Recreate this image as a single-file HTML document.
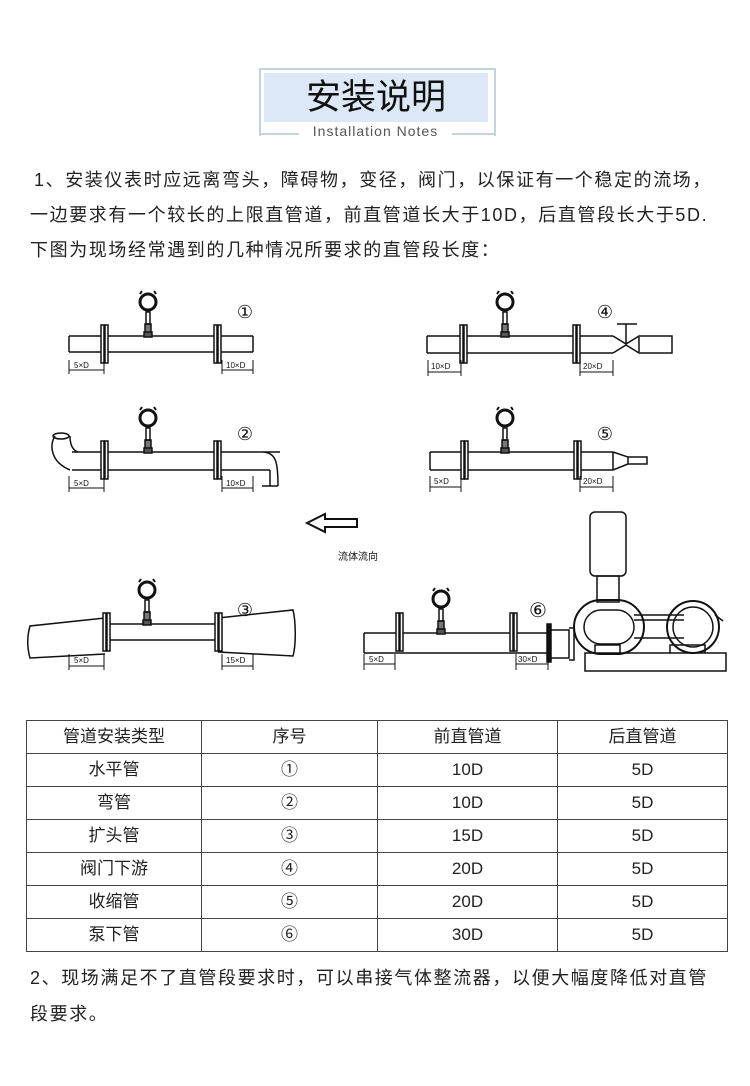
<!DOCTYPE html>
<html><head><meta charset="utf-8"><style>
body{margin:0;width:750px;height:1086px;background:#fff;font-family:"Liberation Sans","Noto Sans CJK SC",sans-serif;color:#222;position:relative;overflow:hidden}
.t{position:absolute;font-size:18px;letter-spacing:1.6px;white-space:nowrap}
table{position:absolute;left:26px;top:720px;border-collapse:collapse;font-size:17px}
td{border:1px solid #444;text-align:center;height:32px;padding:0;line-height:30px}
</style></head><body>
<div style="position:absolute;left:259px;top:68px;width:233px;height:66px;border:2px solid #c5d4da;border-bottom:none"></div>
<div style="position:absolute;left:264px;top:73px;width:224px;height:49px;background:#dce8f6"></div>
<div style="position:absolute;left:264px;top:73px;width:224px;text-align:center;font-size:35px;line-height:49px;color:#111">安装说明</div>
<div style="position:absolute;left:259px;top:133px;width:40px;border-top:2px solid #c5d4da"></div>
<div style="position:absolute;left:452px;top:133px;width:42px;border-top:2px solid #c5d4da"></div>
<div style="position:absolute;left:299px;top:123px;width:153px;text-align:center;font-size:14px;letter-spacing:1px;color:#555">Installation Notes</div>
<div class="t" style="left:34px;top:166px">1、安装仪表时应远离弯头，障碍物，变径，阀门，以保证有一个稳定的流场，</div>
<div class="t" style="left:30px;top:201px">一边要求有一个较长的上限直管道，前直管道长大于10D，后直管段长大于5D.</div>
<div class="t" style="left:30px;top:236px">下图为现场经常遇到的几种情况所要求的直管段长度：</div>
<svg width="750" height="1086" style="position:absolute;left:0;top:0" fill="none" stroke="#111" stroke-width="1.5" font-family="Liberation Sans" >
<defs>
<g id="tx"><rect x="-3" y="-12" width="6" height="9" fill="#777"/><rect x="-4" y="-4" width="8" height="5" fill="#555"/><rect x="-2" y="-24" width="4" height="12"/><circle cx="0" cy="-34" r="8" stroke-width="3"/><path d="M-8 -42l2 -3M8 -42l-2 -3" stroke-width="2"/></g>
<g id="fl"><rect x="0" y="-11" width="3" height="38" fill="#fff"/><rect x="4" y="-11" width="3" height="38" fill="#fff"/></g>
</defs>
<!-- 1 -->
<path d="M69 336H253M69 352H253M69 336v16M253 336v16"/>
<use href="#fl" x="101" y="336"/><use href="#fl" x="214" y="336"/><use href="#tx" x="148" y="336"/>
<path d="M69 370H104M69 360v14M104 360v14M222 370H253M222 360v14M253 360v14" stroke-width="1"/>
<text x="74" y="368" font-size="8" fill="#111" stroke="none">5×D</text><text x="226" y="368" font-size="8" fill="#111" stroke="none">10×D</text>
<text x="245" y="318" font-size="18" fill="#111" stroke="none" text-anchor="middle">①</text>
<!-- 2 -->
<path d="M72 452H280M72 470H270M55 436c-6 10 -4 26 15 34M70 436c0 8 2 14 8 16M262 452c14 0 16 10 16 34M270 470v16M262 486h16"/>
<ellipse cx="61" cy="436" rx="8" ry="3"/>
<use href="#fl" x="101" y="452"/><use href="#fl" x="214" y="452"/><use href="#tx" x="148" y="452"/>
<path d="M69 488H104M69 476v16M104 476v16M222 488H253M222 476v16M253 476v16" stroke-width="1"/>
<text x="74" y="486" font-size="8" fill="#111" stroke="none">5×D</text><text x="226" y="486" font-size="8" fill="#111" stroke="none">10×D</text>
<text x="245" y="440" font-size="18" fill="#111" stroke="none" text-anchor="middle">②</text>
<!-- 4 -->
<path d="M427 336H613M427 353H613M427 336v17M613 336l13 8l13 -8v17l-13 -8l-13 8M640 336H672V353H640M626 344v-20M617 324h20"/>
<use href="#fl" x="460" y="336"/><use href="#fl" x="573" y="336"/><use href="#tx" x="505" y="336"/>
<path d="M428 372H461M428 360v16M461 360v16M580 372H613M580 360v16M613 360v16" stroke-width="1"/>
<text x="431" y="369" font-size="8" fill="#111" stroke="none">10×D</text><text x="583" y="369" font-size="8" fill="#111" stroke="none">20×D</text>
<text x="605" y="318" font-size="18" fill="#111" stroke="none" text-anchor="middle">④</text>
<!-- 5 -->
<path d="M430 452H613M430 470H613M430 452v18M613 452v18M613 452l15 5v7l-15 6M628 457H647v7H628"/>
<use href="#fl" x="461" y="452"/><use href="#fl" x="574" y="452"/><use href="#tx" x="505" y="452"/>
<path d="M430 487H461M430 476v16M461 476v16M580 487H613M580 476v16M613 476v16" stroke-width="1"/>
<text x="434" y="484" font-size="8" fill="#111" stroke="none">5×D</text><text x="583" y="484" font-size="8" fill="#111" stroke="none">20×D</text>
<text x="605" y="440" font-size="18" fill="#111" stroke="none" text-anchor="middle">⑤</text>
<!-- arrow -->
<path d="M307 523l18 -9v5h32v8h-32v5z" stroke-width="2"/>
<text x="338" y="560" font-size="10" fill="#111" stroke="none">流体流向</text>
<!-- 3 -->
<path d="M105 624H218M105 640H218M105 618L30 626c-3 10 -3 22 0 32l75 -4M218 618l75 -8c3 12 3 36 0 46l-75 -4"/>
<use href="#fl" x="103" y="624"/><use href="#fl" x="215" y="624"/><use href="#tx" x="147" y="624"/>
<path d="M69 666H104M69 654v16M104 654v16M222 666H253M222 654v16M253 654v16" stroke-width="1"/>
<text x="74" y="663" font-size="8" fill="#111" stroke="none">5×D</text><text x="226" y="663" font-size="8" fill="#111" stroke="none">15×D</text>
<text x="245" y="616" font-size="18" fill="#111" stroke="none" text-anchor="middle">③</text>
<!-- 6 -->
<path d="M364 633H548M364 653H548M364 633v20"/>
<use href="#fl" x="396" y="624"/><use href="#fl" x="510" y="624"/><use href="#tx" x="441" y="633"/>
<rect x="547" y="624" width="4" height="38" fill="#111"/>
<path d="M551 630h18v28h-18M569 628h5v32h-5"/>
<path d="M364 664H395M364 654v16M395 654v16M516 664H548M516 654v16M548 654v16" stroke-width="1"/>
<text x="369" y="662" font-size="8" fill="#111" stroke="none">5×D</text><text x="518" y="662" font-size="8" fill="#111" stroke="none">30×D</text>
<text x="538" y="617" font-size="20" fill="#111" stroke="none" text-anchor="middle">⑥</text>
<rect x="590" y="512" width="36" height="64" rx="5"/>
<path d="M597 576h22v26h-22z"/>
<rect x="574" y="600" width="70" height="54" rx="27" stroke-width="2"/>
<rect x="584" y="610" width="50" height="34" rx="17"/>
<path d="M634 615h50M634 638h50M634 620h50"/>
<circle cx="693" cy="627" r="26" stroke-width="2"/><circle cx="693" cy="627" r="20"/>
<path d="M715 615l8 6"/>
<rect x="585" y="653" width="141" height="18"/>
<path d="M595 653v-8h25v8M670 653v-8h35v8"/>
</svg>
<table>
<tr><td style="width:174px">管道安装类型</td><td style="width:175px">序号</td><td style="width:179px">前直管道</td><td style="width:169px">后直管道</td></tr>
<tr><td>水平管</td><td>①</td><td>10D</td><td>5D</td></tr>
<tr><td>弯管</td><td>②</td><td>10D</td><td>5D</td></tr>
<tr><td>扩头管</td><td>③</td><td>15D</td><td>5D</td></tr>
<tr><td>阀门下游</td><td>④</td><td>20D</td><td>5D</td></tr>
<tr><td>收缩管</td><td>⑤</td><td>20D</td><td>5D</td></tr>
<tr><td>泵下管</td><td>⑥</td><td>30D</td><td>5D</td></tr>
</table>
<div class="t" style="left:30px;top:964px">2、现场满足不了直管段要求时，可以串接气体整流器，以便大幅度降低对直管</div>
<div class="t" style="left:30px;top:1000px">段要求。</div>
</body></html>
